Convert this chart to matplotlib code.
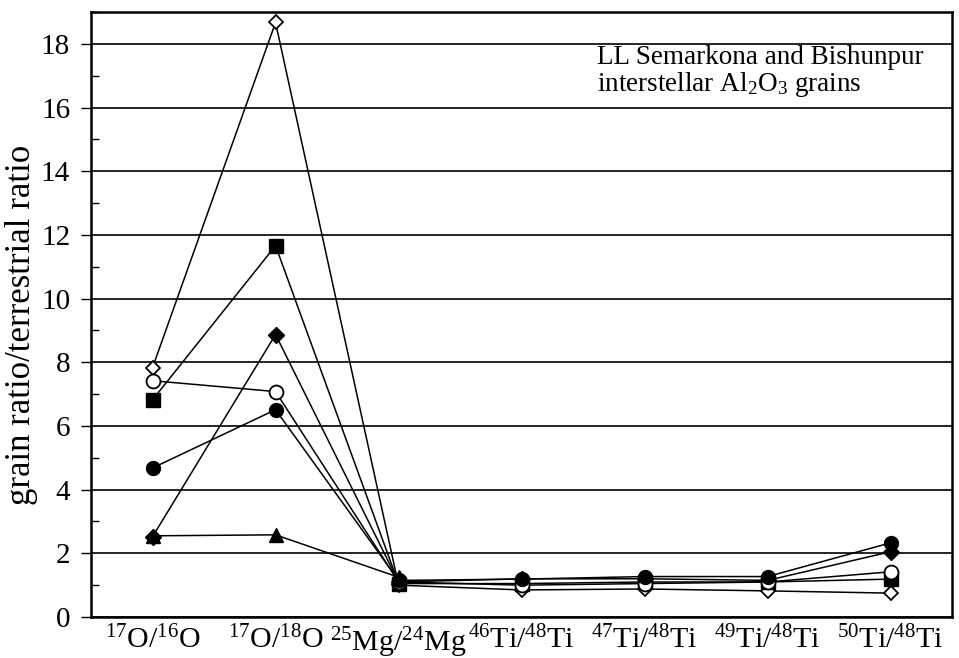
import matplotlib
matplotlib.use("Agg")
import matplotlib.pyplot as plt
from matplotlib.ticker import MultipleLocator

plt.rcParams['font.family'] = ['Liberation Serif', 'DejaVu Serif']
plt.rcParams['mathtext.fontset'] = 'custom'
plt.rcParams['mathtext.rm'] = 'Liberation Serif'
plt.rcParams['mathtext.it'] = 'Liberation Serif:italic'

# isotope ratios along the x axis
ratios = [r'$\mathregular{^{17}O/^{16}O}$', r'$\mathregular{^{17}O/^{18}O}$',
          r'$\mathregular{^{25}Mg/^{24}Mg}$', r'$\mathregular{^{46}Ti/^{48}Ti}$',
          r'$\mathregular{^{47}Ti/^{48}Ti}$', r'$\mathregular{^{49}Ti/^{48}Ti}$',
          r'$\mathregular{^{50}Ti/^{48}Ti}$']

# grain ratio / terrestrial ratio for each grain
open_diamond = [7.83, 18.67, 1.00, 0.85, 0.88, 0.82, 0.75]
filled_square = [6.82, 11.66, 1.05, 1.05, 1.10, 1.10, 1.19]
filled_diamond = [2.52, 8.87, 1.10, 1.20, 1.20, 1.15, 2.05]
open_circle = [7.42, 7.08, 1.10, 1.00, 1.05, 1.10, 1.42]
filled_circle = [4.68, 6.51, 1.15, 1.19, 1.27, 1.27, 2.33]
filled_triangle = [2.55, 2.58, 1.25]

fig = plt.figure(figsize=(9.59, 6.58), dpi=100)
ax = fig.add_axes([0.0949, 0.0623, 0.898, 0.9195])

x = list(range(len(ratios)))
lw = 1.1
ax.plot(x, open_diamond, color='black', lw=lw, marker='D', ms=7.5,
        mfc='white', mec='black', mew=1.3, zorder=3)
ax.plot(x, filled_square, color='black', lw=lw, marker='s', ms=10,
        mfc='black', mec='black', zorder=3)
ax.plot(x, filled_diamond, color='black', lw=lw, marker='D', ms=8.5,
        mfc='black', mec='black', zorder=3)
ax.plot(x, open_circle, color='black', lw=lw, marker='o', ms=10,
        mfc='white', mec='black', mew=1.3, zorder=3)
ax.plot(x, filled_circle, color='black', lw=lw, marker='o', ms=10,
        mfc='black', mec='black', zorder=3)
ax.plot(x[:len(filled_triangle)], filled_triangle, color='black', lw=lw,
        marker='^', ms=10, mfc='black', mec='black', zorder=3)

ax.set_xlim(-0.5, len(ratios) - 0.5)
ax.set_ylim(0, 19.0)
ax.set_xticks(x)
ax.set_xticklabels(ratios, fontsize=21.5)
ax.tick_params(axis='x', length=0, pad=6)

ax.yaxis.set_major_locator(MultipleLocator(2))
ax.yaxis.set_minor_locator(MultipleLocator(1))
ax.tick_params(axis='y', which='major', direction='out', length=7, width=1,
               labelsize=21, pad=8)
ax.tick_params(axis='y', which='minor', direction='in', length=6, width=1)
ax.yaxis.grid(True, which='major', color='black', lw=1.2)
ax.set_axisbelow(True)

for s in ax.spines.values():
    s.set_linewidth(1.8)
    s.set_color('black')

ax.set_ylabel('grain ratio/terrestrial ratio', fontsize=25)
ax.yaxis.set_label_coords(-0.061, 0.483)

ax.text(0.588, 0.945,
        'LL Semarkona and Bishunpur\ninterstellar Al$_\\mathregular{2}$O$_\\mathregular{3}$ grains',
        transform=ax.transAxes, fontsize=19.5, va='top', ha='left',
        linespacing=1.0, zorder=4)

fig.savefig('out.png', dpi=100)
